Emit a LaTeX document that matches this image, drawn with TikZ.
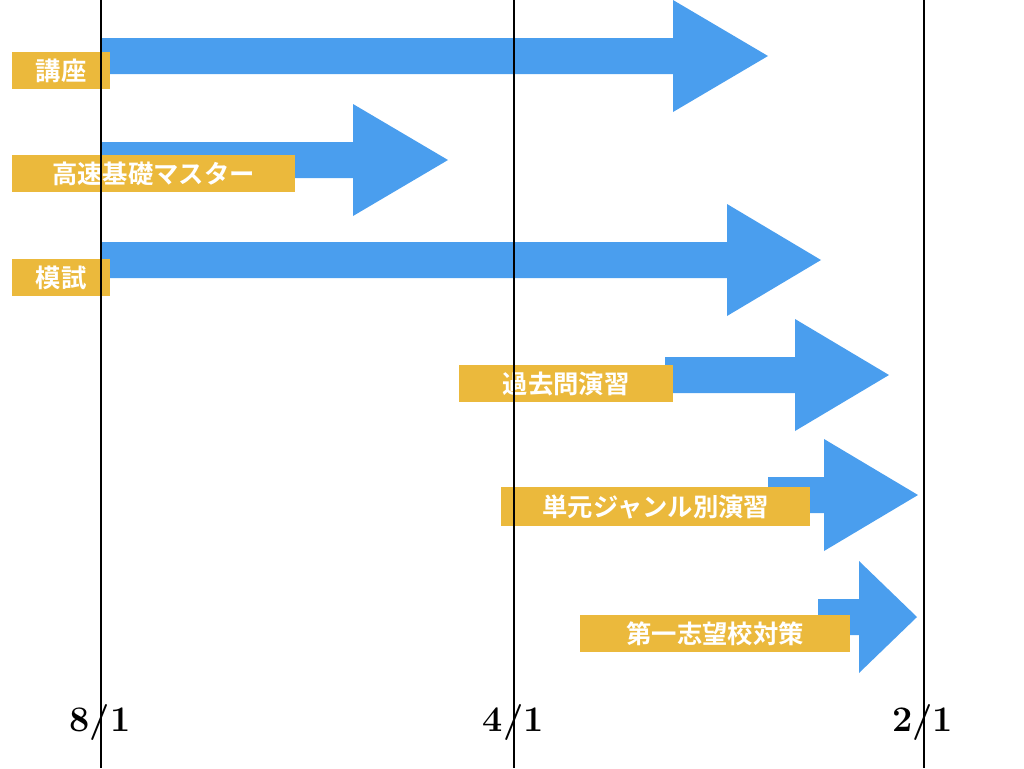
\documentclass[tikz,border=0pt]{standalone}
\usepackage{fontspec}
\newfontfamily\cjk{Noto Sans CJK JP}[BoldFont={Noto Sans CJK JP Bold}]
\begin{document}
\begin{tikzpicture}[x=1pt,y=-1pt,
  arr/.style={fill=arrowblue},
  lab/.style={fill=labyellow,text=white,font=\cjk\bfseries\fontsize{19}{19}\selectfont,inner sep=0pt,minimum height=27.5pt,anchor=north west},
  datelab/.style={font=\bfseries\fontsize{27}{27}\selectfont}]
\definecolor{arrowblue}{HTML}{4A9EEE}
\definecolor{labyellow}{HTML}{EBB93C}
\useasboundingbox (0,0) rectangle (768,576);
\newcommand{\bigarrow}[4]{% x0, xhead, xtip, yc
  \fill[arr] (#1,{#4-13.5}) -- (#2,{#4-13.5}) -- (#2,{#4-42}) -- (#3,#4) -- (#2,{#4+42}) -- (#2,{#4+13.5}) -- (#1,{#4+13.5}) -- cycle;}
\bigarrow{75.75}{504.75}{576}{42}
\bigarrow{75.75}{264.75}{336}{120}
\bigarrow{75.75}{545.25}{615.75}{195}
\bigarrow{498.75}{596.25}{666.75}{281.25}
\bigarrow{576}{618}{688.5}{371.25}
\bigarrow{613.5}{644.25}{687.75}{462.75}
\node[lab,minimum width=73.5pt] (a) at (9,39) {講座};
\node[lab,minimum width=212pt] (b) at (9,116.25) {高速基礎マスター};
\node[lab,minimum width=73.5pt] (c) at (9,194.25) {模試};
\node[lab,minimum width=160.5pt] (d) at (344.25,273.75) {過去問演習};
\node[lab,minimum width=231.75pt,minimum height=29pt] (e) at (375.75,365.25) {単元ジャンル別演習};
\node[lab,minimum width=202.5pt] (f) at (435,461.25) {第一志望校対策};
\node[datelab] (d1) at (75,541.5) {8/1};
\node[datelab] (d2) at (385,541.5) {4/1};
\node[datelab] (d3) at (692,541.5) {2/1};
\draw[line width=0.8pt] (75.75,0) -- (75.75,576);
\draw[line width=0.8pt] (385.5,0) -- (385.5,576);
\draw[line width=0.8pt] (693,0) -- (693,576);
\end{tikzpicture}
\end{document}
